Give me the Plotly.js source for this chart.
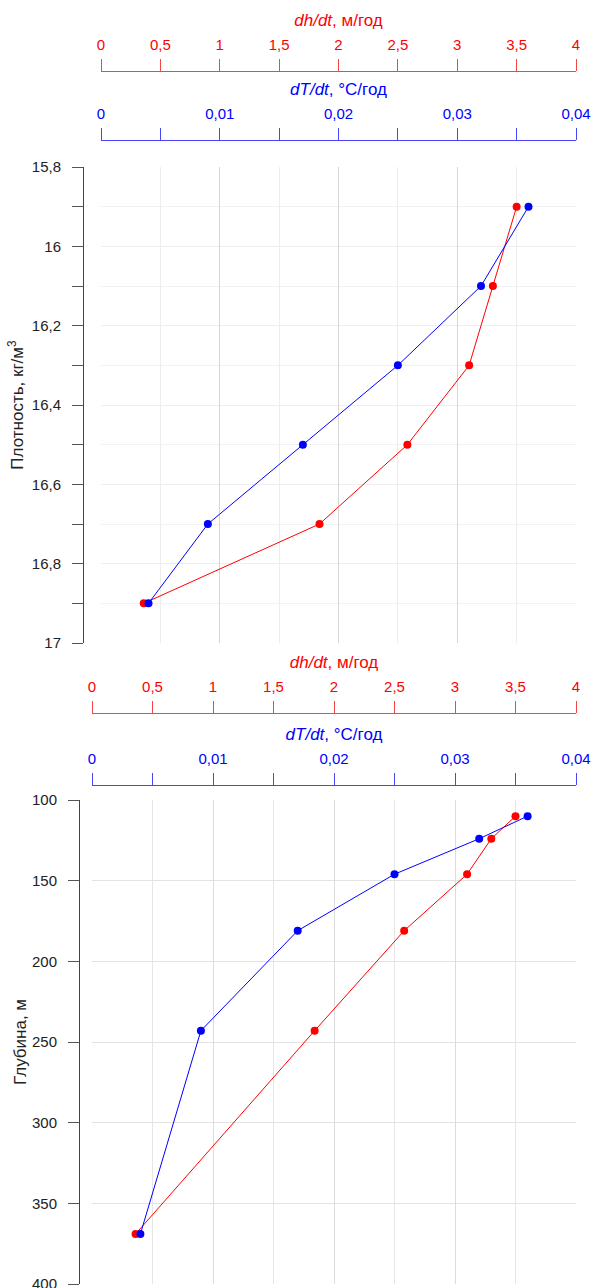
<!DOCTYPE html>
<html>
<head>
<meta charset="utf-8">
<script src="https://cdn.plot.ly/plotly-3.0.1.min.js"></script>
<style>html,body{margin:0;padding:0;background:#fff}#chart{width:592px;height:1288px}</style>
</head>
<body>
<div id="chart"></div>
<script>
// Data
const density = [15.9, 16.1, 16.3, 16.5, 16.7, 16.9];          // кг/м³
const depth = [110, 124, 146, 181, 243, 369];                  // м
const dhdt = [3.5, 3.3, 3.1, 2.58, 1.84, 0.36];                // м/год
const dTdt = [0.036, 0.032, 0.025, 0.017, 0.009, 0.004];       // °C/год

const W = 592, H = 1288;
const fx = px => px / W;
const fy = py => 1 - py / H;
const FONT = 'Liberation Sans, Arial, sans-serif';
const RED = '#ff0000', BLUE = '#0000ff';
const REDLINE = 'rgb(245,70,70)', BLUELINE = 'rgb(70,70,250)';

const lineStyle = (c) => ({color: c, width: 1});
const mk = (c) => ({color: c, size: 8});

const traces = [
  {x: dhdt, y: density, xaxis: 'x', yaxis: 'y', mode: 'lines+markers', line: lineStyle(RED), marker: mk(RED), cliponaxis: false},
  {x: dTdt, y: density, xaxis: 'x2', yaxis: 'y', mode: 'lines+markers', line: lineStyle(BLUE), marker: mk(BLUE), cliponaxis: false},
  {x: dhdt, y: depth, xaxis: 'x3', yaxis: 'y2', mode: 'lines+markers', line: lineStyle(RED), marker: mk(RED), cliponaxis: false},
  {x: dTdt, y: depth, xaxis: 'x4', yaxis: 'y2', mode: 'lines+markers', line: lineStyle(BLUE), marker: mk(BLUE), cliponaxis: false}
];

function redAxis(domain, pos) {
  return {
    domain: domain, range: [0, 4], side: 'top', anchor: 'free', position: pos,
    tick0: 0, dtick: 0.5, ticks: 'outside', ticklen: 12, tickcolor: REDLINE, tickwidth: 1,
    showline: true, linecolor: REDLINE, linewidth: 1, showgrid: false, zeroline: false,
    ticklabelstandoff: 3,
    tickfont: {family: FONT, size: 15, color: RED},
    title: {text: '<i>dh/dt</i>, м/год', font: {family: FONT, size: 17, color: RED}, standoff: 4}
  };
}
function blueAxis(domain, pos, over, gridMajor, gridMinor) {
  return {
    domain: domain, range: [0, 0.04], side: 'top', anchor: 'free', position: pos, overlaying: over,
    tick0: 0, dtick: 0.01, ticks: 'outside', ticklen: 12, tickcolor: BLUELINE, tickwidth: 1,
    showline: true, linecolor: BLUELINE, linewidth: 1, zeroline: false,
    showgrid: true, gridcolor: gridMajor, gridwidth: 1,
    minor: {dtick: 0.005, ticks: 'outside', ticklen: 12, tickcolor: BLUELINE, showgrid: true, gridcolor: gridMinor, gridwidth: 1},
    ticklabelstandoff: 3,
    tickfont: {family: FONT, size: 15, color: BLUE},
    title: {text: '<i>dT/dt</i>, °C/год', font: {family: FONT, size: 17, color: BLUE}, standoff: 4}
  };
}

const dom1 = [fx(101), fx(576)];
const dom2 = [fx(92), fx(576)];

const layout = {
  width: W, height: H,
  margin: {l: 0, r: 0, t: 0, b: 0},
  paper_bgcolor: '#fff', plot_bgcolor: '#fff',
  showlegend: false,
  separators: ', ',
  font: {family: FONT, size: 15, color: '#222'},
  xaxis: redAxis(dom1, fy(71)),
  xaxis2: blueAxis(dom1, fy(140), 'x', '#d6d6d6', '#ededed'),
  xaxis3: redAxis(dom2, fy(713)),
  xaxis4: blueAxis(dom2, fy(785), 'x3', '#dcdcdc', '#e6e6e6'),
  yaxis: {
    domain: [fy(643), fy(167)], range: [17, 15.8], anchor: 'free', position: fx(83),
    tick0: 15.8, dtick: 0.2, ticks: 'outside', ticklen: 11, tickcolor: '#555',
    minor: {dtick: 0.1, ticks: 'outside', ticklen: 11, tickcolor: '#555', showgrid: true, gridcolor: '#f2f2f2'},
    showline: true, linecolor: '#444', linewidth: 1, zeroline: false,
    showgrid: true, gridcolor: '#efefef',
    ticklabelstandoff: 8, ticklabeloverflow: 'allow',
    tickfont: {family: FONT, size: 15, color: '#222'},
    title: {text: 'Плотность, кг/м<sup>3</sup>', font: {family: FONT, size: 17, color: '#222'}, standoff: 2}
  },
  yaxis2: {
    domain: [fy(1284), fy(800)], range: [400, 100], anchor: 'free', position: fx(79),
    tick0: 100, dtick: 50, ticks: 'outside', ticklen: 11, tickcolor: '#555',
    showline: true, linecolor: '#444', linewidth: 1, zeroline: false,
    showgrid: true, gridcolor: '#e3e3e3',
    ticklabelstandoff: 8, ticklabeloverflow: 'allow',
    tickfont: {family: FONT, size: 15, color: '#222'},
    title: {text: 'Глубина, м', font: {family: FONT, size: 17, color: '#222'}, standoff: 0}
  }
};

Plotly.newPlot('chart', traces, layout, {staticPlot: true, displayModeBar: false});
</script>
</body>
</html>
